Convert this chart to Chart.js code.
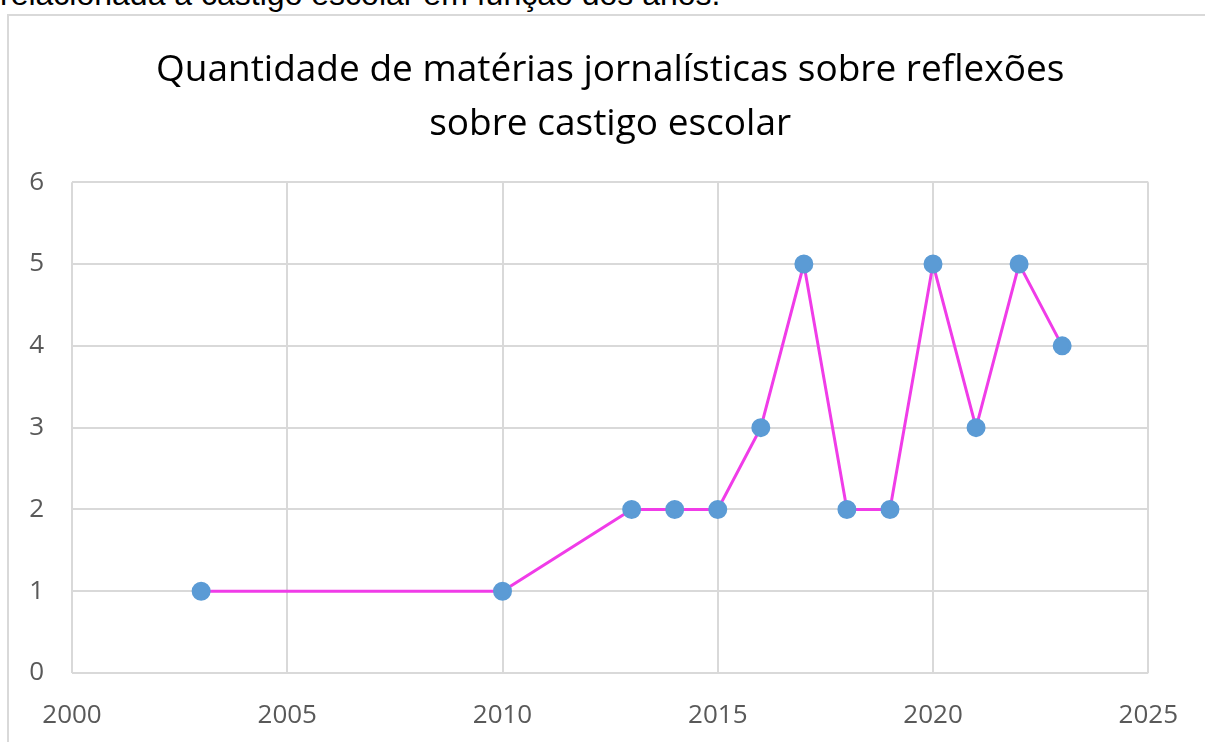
<!DOCTYPE html>
<html>
<head>
<meta charset="utf-8">
<script src="https://cdn.jsdelivr.net/npm/chart.js@4"></script>
<style>
  html, body { margin: 0; padding: 0; background: #fff; overflow: hidden; }
  body { width: 1205px; height: 742px; position: relative; }
  #topText { position: absolute; left: 0; top: -22px; font: 32px "Liberation Sans", Arial, sans-serif; line-height: 32px; color: #000; white-space: nowrap; }
  #frame { position: absolute; left: 7px; top: 14px; width: 1196px; height: 740px; border: 2px solid #d9d9d9; border-bottom: none; }
  #wrap { position: absolute; left: 0; top: 0; width: 1205px; height: 742px; }
</style>
</head>
<body>
<div id="topText">relacionada a castigo escolar em função dos anos.</div>
<div id="frame"></div>
<div id="wrap"><canvas id="chart"></canvas></div>
<script>
// Dados do gráfico
const anos = [2003, 2010, 2013, 2014, 2015, 2016, 2017, 2018, 2019, 2020, 2021, 2022, 2023];
const quantidades = [1, 1, 2, 2, 2, 3, 5, 2, 2, 5, 3, 5, 4];
const tituloLinhas = ['Quantidade de matérias jornalísticas sobre reflexões', 'sobre castigo escolar'];

const pontos = anos.map((a, i) => ({ x: a, y: quantidades[i] }));

const fonte = '"Open Sans", Lato, sans-serif';

const ctx = document.getElementById('chart').getContext('2d');
const chart = new Chart(ctx, {
    type: 'scatter',
    data: {
        datasets: [{
            data: pontos,
            showLine: true,
            borderColor: '#f03ce8',
            borderWidth: 3,
            pointBackgroundColor: '#5b9bd5',
            pointBorderColor: '#5b9bd5',
            pointRadius: 8,
            pointHoverRadius: 8
        }]
    },
    options: {
        responsive: true,
        maintainAspectRatio: false,
        animation: false,
        layout: { padding: { top: 15, right: 54, left: 0, bottom: 0 } },
        plugins: {
            legend: { display: false },
            tooltip: { enabled: false },
            title: {
                display: true,
                fullSize: false,
                text: tituloLinhas,
                color: '#000',
                font: { family: fonte, size: 37, weight: 'normal', lineHeight: 1.45 },
                padding: { top: 29, bottom: 31 }
            }
        },
        scales: {
            x: {
                type: 'linear',
                min: 2000,
                max: 2025,
                ticks: { stepSize: 5, padding: 27, color: '#595959', font: { family: fonte, size: 26 }, callback: v => String(v) },
                grid: { color: '#d9d9d9', lineWidth: 2, drawTicks: false },
                border: { display: false },
                afterFit: s => { s.height = 69; }
            },
            y: {
                min: 0,
                max: 6,
                ticks: { stepSize: 1, padding: 28, color: '#595959', font: { family: fonte, size: 26 } },
                grid: { color: '#d9d9d9', lineWidth: 2, drawTicks: false },
                border: { display: false },
                afterFit: s => { s.width = 72; }
            }
        }
    }
});
</script>
</body>
</html>
